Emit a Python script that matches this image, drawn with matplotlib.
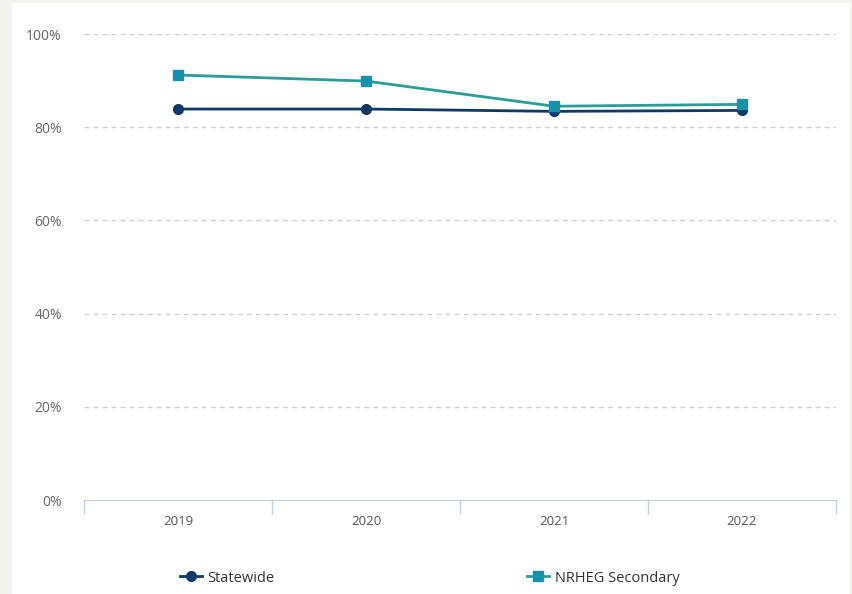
import matplotlib.pyplot as plt
from matplotlib.lines import Line2D
from matplotlib.patches import Rectangle

plt.rcParams['font.family'] = ['Open Sans', 'DejaVu Sans']

years = ['2019', '2020', '2021', '2022']
statewide = [83.9, 83.9, 83.4, 83.6]
nrheg = [91.2, 89.9, 84.5, 84.9]
y_ticks = [0, 20, 40, 60, 80, 100]

navy = '#0e3a63'
teal_line = '#2b9c97'
teal_mark = '#1792ad'

fig = plt.figure(figsize=(8.53, 5.94), dpi=100)
fig.patch.set_facecolor('#f4f3ef')
# white card on top of the grey page
fig.patches.append(Rectangle((12 / 853, 0), 838 / 853, 1 - 3 / 594,
                             transform=fig.transFigure, facecolor='white',
                             edgecolor='none', zorder=-5))

ax = fig.add_axes([84 / 853, 1 - 500 / 594, 752 / 853, 466 / 594])
ax.set_facecolor('none')
x = list(range(len(years)))

ax.plot(x, statewide, color=navy, lw=2, marker='o', ms=7, zorder=3)
ax.plot(x, nrheg, color=teal_line, lw=2, marker='s', ms=7,
        mfc=teal_mark, mec=teal_mark, zorder=4)

ax.set_xlim(-0.5, 3.5)
ax.set_ylim(0, 100)
ax.set_yticks(y_ticks)
ax.set_yticklabels([f'{v}%' for v in y_ticks])
for v in y_ticks[1:]:
    ax.axhline(v, color='#cfcfcf', lw=1, ls=(0, (3.5, 3)), zorder=1)

ax.set_xticks(x)
ax.set_xticklabels(years)
ax.set_xticks([-0.5, 0.5, 1.5, 2.5, 3.5], minor=True)
ax.tick_params(axis='x', which='major', length=0, pad=11, labelsize=9.5, labelcolor='#555555')
ax.tick_params(axis='x', which='minor', length=10, color='#c6d0dc', width=1)
ax.tick_params(axis='y', length=0, pad=16, labelsize=10, labelcolor='#666666')

for s in ['top', 'right', 'left']:
    ax.spines[s].set_visible(False)
ax.spines['bottom'].set_color('#c6d0dc')

h1 = Line2D([], [], color=navy, lw=2, marker='o', ms=7)
h2 = Line2D([], [], color=teal_line, lw=2, marker='s', ms=7, mfc=teal_mark, mec=teal_mark)
for h, lab, xpos in [(h1, 'Statewide', 180), (h2, 'NRHEG Secondary', 527)]:
    leg = fig.legend([h], [lab], loc='center left', bbox_to_anchor=(xpos / 853, 1 - 578 / 594),
                     frameon=False, fontsize=10.5, handlelength=1.5, handletextpad=0.4, borderpad=0,
                     borderaxespad=0)
    for t in leg.get_texts():
        t.set_color('#333333')

fig.savefig('out.png', dpi=100, facecolor=fig.get_facecolor())
